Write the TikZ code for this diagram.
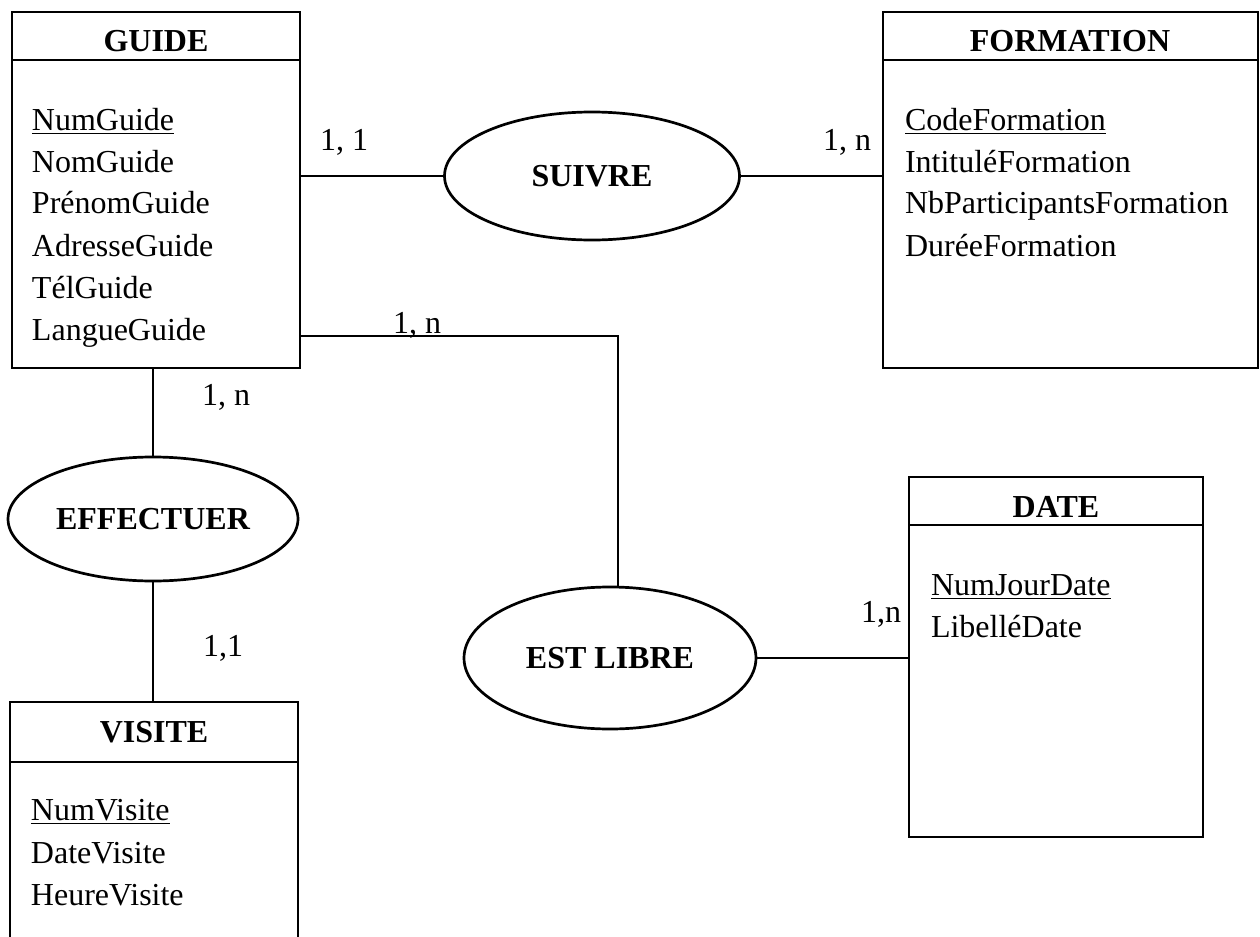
\documentclass[tikz,border=0pt]{standalone}
\usepackage{fontspec}
\setmainfont{Liberation Serif}
\usetikzlibrary{shapes.geometric}
\begin{document}
\begin{tikzpicture}[x=0.5pt,y=-0.5pt,line width=1.35pt,
  every node/.style={font=\fontsize{16pt}{21pt}\selectfont,inner sep=0pt,outer sep=0pt},
  entity/.style={draw,rectangle,anchor=north west},
  assoc/.style={draw,ellipse,font=\fontsize{16pt}{21pt}\selectfont\bfseries},
  attr/.style={anchor=base west},
  head/.style={anchor=base,font=\fontsize{16pt}{21pt}\selectfont\bfseries},
  card/.style={anchor=base west}]
\useasboundingbox (0,0) rectangle (1260,937);
\clip (0,0) rectangle (1260,937);
\fill[white] (0,0) rectangle (1260,937);

% GUIDE
\node[entity,minimum width=144pt,minimum height=178pt] (guide) at (12,12) {};
\draw (12,60) -- (300,60);
\node[head] (guideT) at (156,52) {GUIDE};
\node[attr] (g1) at (32,130) {\underline{NumGuide}};
\node[attr] (g2) at (32,172) {NomGuide};
\node[attr] (g3) at (32,213) {PrénomGuide};
\node[attr] (g4) at (32,256) {AdresseGuide};
\node[attr] (g5) at (32,298) {TélGuide};
\node[attr] (g6) at (32,340) {LangueGuide};

% FORMATION
\node[entity,minimum width=187.5pt,minimum height=178pt] (formation) at (883,12) {};
\draw (883,60) -- (1258,60);
\node[head] (formationT) at (1070,52) {FORMATION};
\node[attr] (f1) at (905,130) {\underline{CodeFormation}};
\node[attr] (f2) at (905,172) {IntituléFormation};
\node[attr] (f3) at (905,213) {NbParticipantsFormation};
\node[attr] (f4) at (905,256) {DuréeFormation};

% VISITE
\node[entity,minimum width=144pt,minimum height=129pt] (visite) at (10,702) {};
\draw (10,762) -- (298,762);
\node[head] (visiteT) at (154,742) {VISITE};
\node[attr] (v1) at (31,820) {\underline{NumVisite}};
\node[attr] (v2) at (31,863) {DateVisite};
\node[attr] (v3) at (31,905) {HeureVisite};

% DATE
\node[entity,minimum width=147pt,minimum height=180pt] (date) at (909,477) {};
\draw (909,525) -- (1203,525);
\node[head] (dateT) at (1056,517) {DATE};
\node[attr] (d1) at (931,595) {\underline{NumJourDate}};
\node[attr] (d2) at (931,637) {LibelléDate};

% Associations
\node[assoc,minimum width=147.5pt,minimum height=64pt] (suivre) at (592,176) {SUIVRE};
\node[assoc,minimum width=145pt,minimum height=62pt] (effectuer) at (153,519) {EFFECTUER};
\node[assoc,minimum width=146pt,minimum height=71pt] (estlibre) at (610,658) {EST LIBRE};

% Connectors
\draw (suivre.west) -- (suivre.west -| guide.east);
\draw (suivre.east) -- (suivre.east -| formation.west);
\coordinate (c1) at (618,336);
\draw (c1 -| guide.east) -- (c1) -- (c1 |- estlibre.north);
\draw (estlibre.east) -- (estlibre.east -| date.west);
\draw (effectuer.north) -- (effectuer.north |- guide.south);
\draw (effectuer.south) -- (effectuer.south |- visite.north);

% Cardinalities
\node[card] (k1) at (320,150) {1, 1};
\node[card] (k2) at (823,150) {1, n};
\node[card] (k3) at (393,333) {1, n};
\node[card] (k4) at (202,405) {1, n};
\node[card] (k5) at (203,656) {1,1};
\node[card] (k6) at (861,622) {1,n};
\end{tikzpicture}
\end{document}
